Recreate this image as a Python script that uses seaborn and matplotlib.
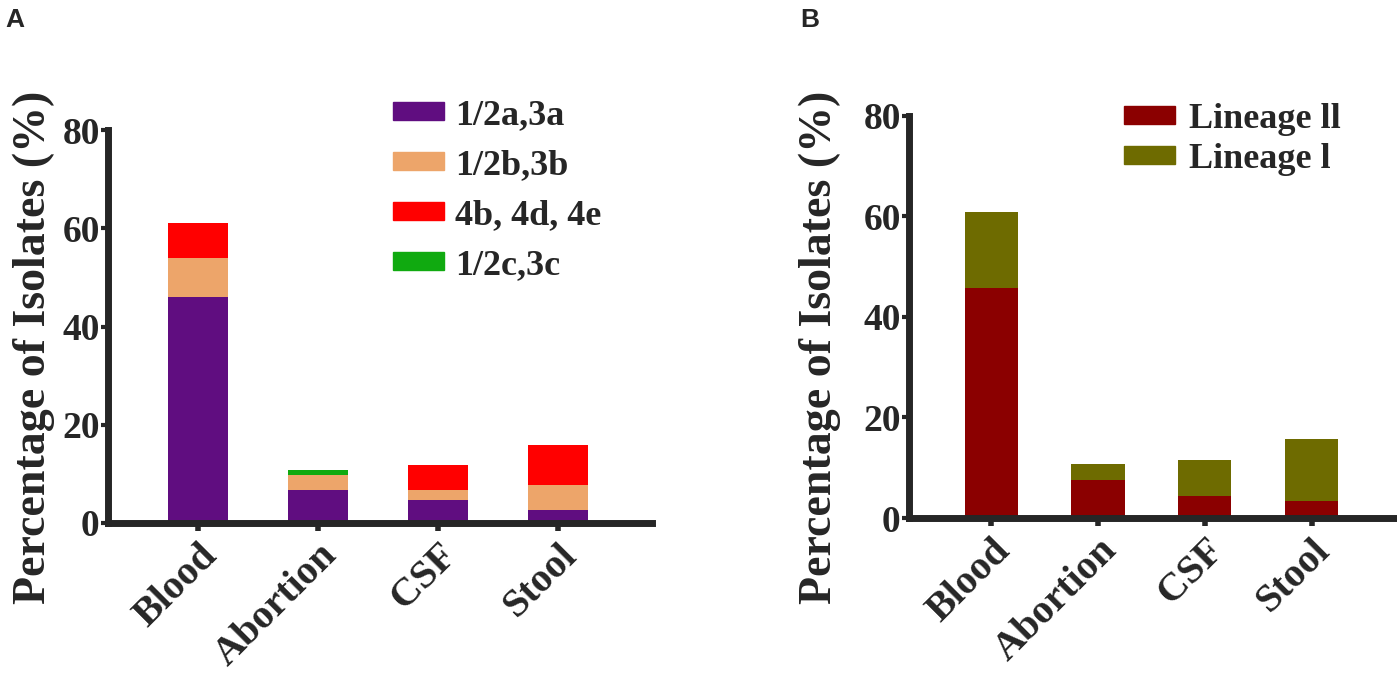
import numpy as np
import pandas as pd
import seaborn as sns
from matplotlib import pyplot as plt
from matplotlib.patches import Patch

# sample sources
sites = ["Blood", "Abortion", "CSF", "Stool"]

# panel A : serotypes (% of isolates)
sero_labels = ["1/2a,3a", "1/2b,3b", "4b, 4d, 4e", "1/2c,3c"]
sero_12a = [46.0, 6.7, 4.7, 2.6]
sero_12b = [8.0, 3.1, 2.0, 5.1]
sero_4b = [7.1, 0.0, 5.1, 8.2]
sero_12c = [0.0, 1.0, 0.0, 0.0]
sero_colors = ["#600D80", "#EDA56A", "#FF0000", "#10AA10"]

# panel B : lineages (% of isolates)
lin_labels = ["Lineage ll", "Lineage l"]
lin_2 = [45.8, 7.6, 4.4, 3.4]
lin_1 = [15.0, 3.2, 7.1, 12.3]
lin_colors = ["#8B0000", "#6E6B00"]

sns.set_style("ticks")
plt.rcParams["font.family"] = ["Liberation Serif", "DejaVu Serif"]
plt.rcParams["font.weight"] = "bold"

W, H = 1397, 687
fig = plt.figure(figsize=(W / 100, H / 100), dpi=100)


def px(x0, y0, x1, y1):
    # pixel box (left, top, right, bottom) -> figure fraction rect
    return [x0 / W, 1 - y1 / H, (x1 - x0) / W, (y1 - y0) / H]


def stacked(ax, layers, colors):
    cum = np.cumsum(np.array(layers), axis=0)
    # draw tallest first, lower segments painted over it
    for k in range(len(layers) - 1, -1, -1):
        df = pd.DataFrame({"site": sites, "val": cum[k]})
        sns.barplot(data=df, x="site", y="val", color=colors[k], width=0.5,
                    saturation=1, linewidth=0, ax=ax)


def style(ax, xlim):
    ax.set_ylim(0, 80)
    ax.set_xlim(*xlim)
    ax.set_yticks([0, 20, 40, 60, 80])
    sns.despine(ax=ax)
    for s in ["left", "bottom"]:
        ax.spines[s].set_linewidth(5)
        ax.spines[s].set_capstyle("projecting")
    ax.tick_params(axis="y", length=5, width=3, labelsize=27, pad=1)
    ax.tick_params(axis="x", length=6, width=4, labelsize=29, pad=4)
    for t in ax.get_yticklabels():
        t.set_fontweight("bold")
    for t in ax.get_xticklabels():
        t.set_fontweight("bold")
        t.set_rotation(45)
        t.set_ha("right")
        t.set_va("top")
        t.set_rotation_mode("anchor")
    ax.set_xlabel("")
    ax.set_ylabel("")


legend_font = {"family": "Liberation Serif", "weight": "bold", "size": 26}

# ---- panel A
axA = fig.add_axes(px(108, 130, 652, 523))
stacked(axA, [sero_12a, sero_12b, sero_4b, sero_12c], sero_colors)
style(axA, (-0.75, 3.78))
fig.text(34 / W, 1 - 347 / H, "Percentage of Isolates (%)", rotation=90,
         ha="center", va="center", fontsize=33, fontweight="bold")
hA = [Patch(color=c) for c in sero_colors]
fig.legend(hA, sero_labels, loc="upper left", bbox_to_anchor=(393 / W, 1 - 99 / H),
           frameon=False, borderpad=0, borderaxespad=0, handlelength=1.42,
           handleheight=0.39, handletextpad=0.3, labelspacing=0.47,
           prop=legend_font)
fig.text(5 / W, 1 - 8 / H, "A", ha="left", va="top", fontsize=19,
         fontweight="bold", family="Liberation Sans")

# ---- panel B
axB = fig.add_axes(px(909, 116, 1397, 518))
stacked(axB, [lin_2, lin_1], lin_colors)
style(axB, (-0.77, 3.8))
fig.text(820 / W, 1 - 347 / H, "Percentage of Isolates (%)", rotation=90,
         ha="center", va="center", fontsize=33, fontweight="bold")
hB = [Patch(color=c) for c in lin_colors]
fig.legend(hB, lin_labels, loc="upper left", bbox_to_anchor=(1124 / W, 1 - 103 / H),
           frameon=False, borderpad=0, borderaxespad=0, handlelength=1.42,
           handleheight=0.39, handletextpad=0.39, labelspacing=0.18,
           prop=legend_font)
fig.text(800 / W, 1 - 8 / H, "B", ha="left", va="top", fontsize=19,
         fontweight="bold", family="Liberation Sans")

fig.savefig("out.png", dpi=100, facecolor="white")
